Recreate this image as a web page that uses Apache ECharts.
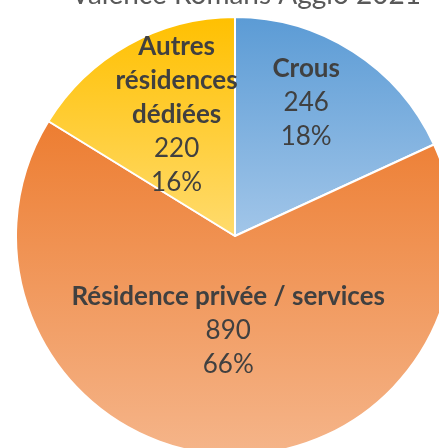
<!DOCTYPE html>
<html>
<head>
<meta charset="utf-8">
<script src="https://cdn.jsdelivr.net/npm/echarts@6/dist/echarts.min.js"></script>
<style>
  html, body { margin: 0; padding: 0; background: #fff; }
  #chart { width: 439px; height: 448px; }
</style>
</head>
<body>
<div id="chart"></div>
<script>
// data
const categories = ['Crous', 'Résidence privée / services', 'Autres\nrésidences\ndédiées'];
const values = [246, 890, 220];

// vertical gradient per slice (top colour, bottom colour)
const topColors = ['#5b9bd5', '#ed7d31', '#ffc000'];
const bottomColors = ['#a2c6e9', '#f5b58a', '#ffdb6e'];
// nudge each label like Excel's best fit placement: [top, right, bottom, left]
const labelPads = [[0, 0, 77, 21], [0, 0, 35, 0], [0, 7, 47, 0]];

const chart = echarts.init(document.getElementById('chart'));

const data = categories.map(function (name, i) {
  return {
    name: name,
    value: values[i],
    itemStyle: {
      color: new echarts.graphic.LinearGradient(0, 0, 0, 1, [
        { offset: 0, color: topColors[i] },
        { offset: 1, color: bottomColors[i] }
      ])
    },
    label: { padding: labelPads[i] }
  };
});

chart.setOption({
  animation: false,
  title: {
    text: 'Valence Romans Agglo 2021',
    left: 66,
    top: -24,
    textStyle: {
      fontFamily: 'Lato',
      fontWeight: 'normal',
      fontSize: 28,
      color: '#595959'
    }
  },
  series: [{
    type: 'pie',
    center: [235, 236],
    radius: 219,
    startAngle: 90,
    clockwise: true,
    percentPrecision: 0,
    avoidLabelOverlap: false,
    itemStyle: { borderColor: '#fff', borderWidth: 2 },
    label: {
      show: true,
      position: 'inside',
      color: '#404040',
      fontFamily: 'Lato',
      formatter: function (p) {
        const nameLines = p.name.split('\n').map(function (s) { return '{n|' + s + '}'; });
        return nameLines.join('\n') + '\n{v|' + p.value + '}\n{v|' + p.percent + '%}';
      },
      rich: {
        n: { fontFamily: 'Lato', fontWeight: 'bold', fontSize: 26, lineHeight: 34, color: '#404040' },
        v: { fontFamily: 'Lato', fontSize: 26, lineHeight: 34, color: '#404040' }
      }
    },
    labelLine: { show: false },
    emphasis: { disabled: true },
    data: data
  }]
});

window.addEventListener('resize', function () {
  chart.resize();
});
</script>
</body>
</html>
